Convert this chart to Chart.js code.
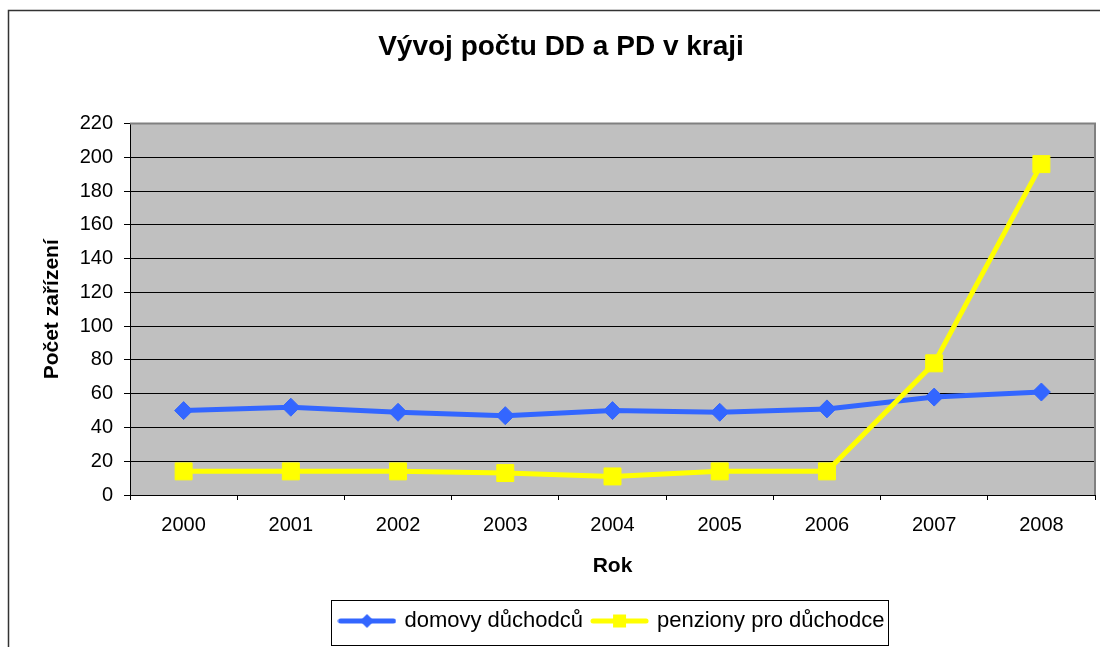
<!DOCTYPE html>
<html>
<head>
<meta charset="utf-8">
<script src="https://cdn.jsdelivr.net/npm/chart.js@4"></script>
<style>
  html, body { margin: 0; padding: 0; background: #fff; }
  canvas { display: block; }
</style>
</head>
<body>
<canvas id="ddChart" width="1100" height="647"></canvas>
<script>
const years = ["2000", "2001", "2002", "2003", "2004", "2005", "2006", "2007", "2008"];
const domovyDuchodcu = [50, 52, 49, 47, 50, 49, 51, 58, 61];
const penzionyProDuchodce = [14, 14, 14, 13, 11, 14, 14, 78, 196];
const yMin = 0;
const yMax = 220;
const yStep = 20;

const BLUE = "#3366ff";
const YELLOW = "#ffff00";
const FONT = "'Liberation Sans', Arial, sans-serif";

// little line + marker pictures for the legend
function legendSample(color, marker) {
  const c = document.createElement("canvas");
  c.width = 59;
  c.height = 20;
  const g = c.getContext("2d");
  g.strokeStyle = color;
  g.lineWidth = 5;
  g.lineCap = "round";
  g.beginPath();
  g.moveTo(3, 10);
  g.lineTo(56, 10);
  g.stroke();
  g.fillStyle = color;
  g.beginPath();
  if (marker === "diamond") {
    g.moveTo(29.5, 3);
    g.lineTo(36.5, 10);
    g.lineTo(29.5, 17);
    g.lineTo(22.5, 10);
    g.closePath();
  } else {
    g.rect(23, 3.5, 13, 13);
  }
  g.fill();
  return c;
}
const samples = [legendSample(BLUE, "diamond"), legendSample(YELLOW, "square")];

const frame = {
  id: "frame",
  beforeDraw(chart) {
    const { ctx, chartArea: a } = chart;
    ctx.save();
    ctx.fillStyle = "#fff";
    ctx.fillRect(0, 0, chart.width, chart.height);
    ctx.fillStyle = "#c0c0c0";
    ctx.fillRect(a.left, a.top, a.right - a.left, a.bottom - a.top);
    ctx.strokeStyle = "#333";
    ctx.lineWidth = 1.5;
    ctx.strokeRect(8.5, 10.5, chart.width + 20, chart.height + 20);
    ctx.restore();
  },
  beforeDatasetsDraw(chart) {
    const { ctx, chartArea: a } = chart;
    ctx.save();
    ctx.strokeStyle = "#808080";
    ctx.lineWidth = 2;
    ctx.beginPath();
    ctx.moveTo(a.left, a.top);
    ctx.lineTo(a.right, a.top);
    ctx.lineTo(a.right, a.bottom);
    ctx.stroke();
    ctx.restore();
  },
  afterDraw(chart) {
    const boxes = chart.legend.legendHitBoxes;
    if (!boxes || !boxes.length) return;
    const first = boxes[0];
    const last = boxes[boxes.length - 1];
    const ctx = chart.ctx;
    ctx.save();
    ctx.strokeStyle = "#000";
    ctx.lineWidth = 1;
    const left = Math.round(first.left - 9) + 0.5;
    const right = Math.round(last.left + last.width + 3) + 0.5;
    const top = Math.round(first.top - 10) + 0.5;
    const bottom = Math.round(first.top + first.height + 13) + 0.5;
    ctx.strokeRect(left, top, right - left, bottom - top);
    ctx.restore();
  },
};

Chart.defaults.color = "#000";
Chart.defaults.font.family = FONT;

const ctx = document.getElementById("ddChart").getContext("2d");
new Chart(ctx, {
  type: "line",
  data: {
    labels: years,
    datasets: [
      {
        label: "domovy důchodců",
        data: domovyDuchodcu,
        borderColor: BLUE,
        backgroundColor: BLUE,
        borderWidth: 5,
        pointStyle: "rectRot",
        pointRadius: 9,
        pointBorderWidth: 1,
        pointBackgroundColor: BLUE,
        pointBorderColor: BLUE,
        tension: 0,
        order: 1,
      },
      {
        label: "penziony pro důchodce",
        data: penzionyProDuchodce,
        borderColor: YELLOW,
        backgroundColor: YELLOW,
        borderWidth: 5,
        pointStyle: "rect",
        pointRadius: 12,
        pointBorderWidth: 1,
        pointBackgroundColor: YELLOW,
        pointBorderColor: YELLOW,
        tension: 0,
        order: 0,
      },
    ],
  },
  options: {
    responsive: false,
    animation: false,
    layout: {
      autoPadding: false,
      padding: { left: 27, right: 5, top: 10, bottom: 5 },
    },
    plugins: {
      title: {
        display: true,
        text: "Vývoj počtu DD a PD v kraji",
        font: { size: 28, weight: "bold", family: FONT },
        color: "#000",
        padding: { top: 20, bottom: 60 },
      },
      legend: {
        position: "bottom",
        fullSize: false,
        labels: {
          usePointStyle: true,
          pointStyleWidth: 53,
          boxHeight: 22,
          padding: 10,
          color: "#000",
          font: { size: 22, family: FONT },
          generateLabels(chart) {
            const items = Chart.defaults.plugins.legend.labels.generateLabels(chart);
            items.sort((a, b) => a.datasetIndex - b.datasetIndex);
            items.forEach((it) => {
              it.pointStyle = samples[it.datasetIndex];
            });
            return items;
          },
        },
      },
      tooltip: { enabled: false },
    },
    scales: {
      x: {
        offset: true,
        afterFit(scale) {
          scale.height = 105;
        },
        grid: {
          offset: true,
          drawOnChartArea: false,
          tickLength: 5,
          color: "#000",
        },
        border: { color: "#000", width: 1 },
        ticks: {
          color: "#000",
          padding: 13,
          font: { size: 20, family: FONT },
        },
        title: {
          display: true,
          text: "Rok",
          color: "#000",
          font: { size: 21, weight: "bold", family: FONT },
          padding: { top: 0, bottom: 21 },
        },
      },
      y: {
        min: yMin,
        max: yMax,
        afterFit(scale) {
          scale.width = 103;
        },
        grid: {
          color: (c) => (c.tick && c.tick.value === yMax ? "rgba(0,0,0,0)" : "#000"),
          tickColor: "#000",
          tickLength: 6,
          lineWidth: 1,
        },
        border: { color: "#000", width: 1 },
        ticks: {
          stepSize: yStep,
          color: "#000",
          padding: 11,
          font: { size: 20, family: FONT },
        },
        title: {
          display: true,
          text: "Počet zařízení",
          color: "#000",
          font: { size: 21, weight: "bold", family: FONT },
          padding: { top: 13, bottom: 0 },
        },
      },
    },
  },
  plugins: [frame],
});
</script>
</body>
</html>
